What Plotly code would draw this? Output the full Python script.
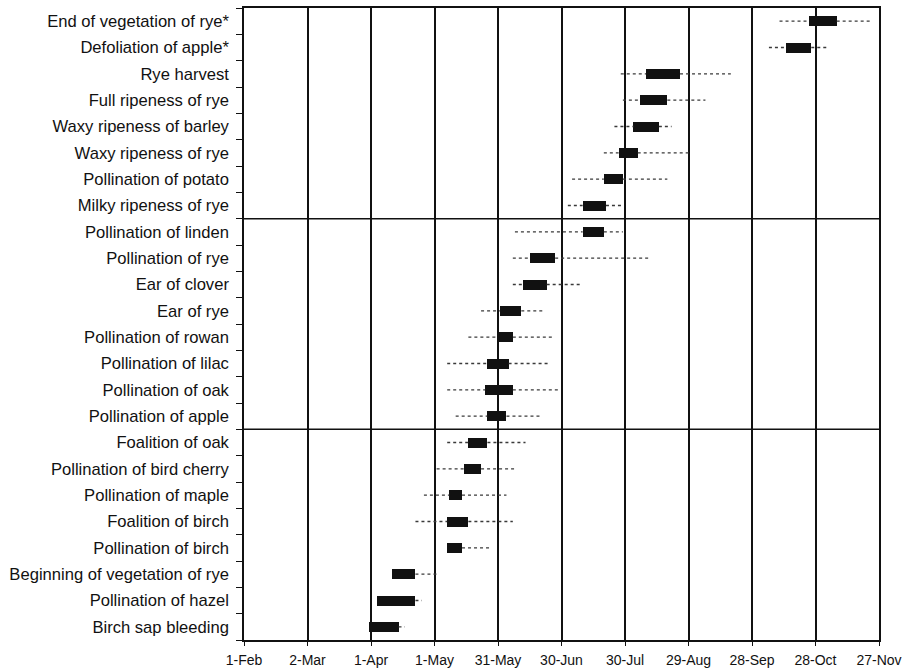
import pandas as pd
import plotly.graph_objects as go

# Phenological phases, listed top to bottom
phases = [
    "End of vegetation of rye*",
    "Defoliation of apple*",
    "Rye harvest",
    "Full ripeness of rye",
    "Waxy ripeness of barley",
    "Waxy ripeness of rye",
    "Pollination of potato",
    "Milky ripeness of rye",
    "Pollination of linden",
    "Pollination of rye",
    "Ear of clover",
    "Ear of rye",
    "Pollination of rowan",
    "Pollination of lilac",
    "Pollination of oak",
    "Pollination of apple",
    "Foalition of oak",
    "Pollination of bird cherry",
    "Pollination of maple",
    "Foalition of birch",
    "Pollination of birch",
    "Beginning of vegetation of rye",
    "Pollination of hazel",
    "Birch sap bleeding",
]

# Earliest date, usual period (start, end) and latest date of each phase
earliest = [
    "10-11", "10-06", "07-28", "07-29", "07-25", "07-20", "07-05", "07-03",
    "06-08", "06-07", "06-07", "05-23", "05-17", "05-07", "05-07", "05-11",
    "05-07", "05-02", "04-26", "04-22", "05-07", "04-11", "04-04", "03-31",
]
period_start = [
    "10-25", "10-14", "08-09", "08-06", "08-03", "07-27", "07-20", "07-10",
    "07-10", "06-15", "06-12", "06-01", "05-31", "05-26", "05-25", "05-26",
    "05-17", "05-15", "05-08", "05-07", "05-07", "04-11", "04-04", "03-31",
]
period_end = [
    "11-07", "10-26", "08-25", "08-19", "08-15", "08-05", "07-29", "07-21",
    "07-20", "06-27", "06-23", "06-11", "06-07", "06-05", "06-07", "06-04",
    "05-26", "05-23", "05-14", "05-17", "05-14", "04-22", "04-22", "04-14",
]
latest = [
    "11-24", "11-03", "09-18", "09-06", "08-21", "08-30", "08-19", "07-29",
    "07-29", "08-10", "07-10", "06-21", "06-26", "06-24", "06-29", "06-21",
    "06-13", "06-08", "06-04", "06-07", "05-27", "05-03", "04-25", "04-17",
]

# Axis ticks every 30 days
tick_dates = ["02-01", "03-02", "04-01", "05-01", "05-31", "06-30",
              "07-30", "08-29", "09-28", "10-28", "11-27"]

YEAR = "2000"


def to_dt(md):
    return pd.to_datetime([f"{YEAR}-{d}" for d in md])


lo = to_dt(earliest)
q1 = to_dt(period_start)
q3 = to_dt(period_end)
hi = to_dt(latest)
ticks = to_dt(tick_dates)

n = len(phases)
ypos = [n - 1 - i for i in range(n)]

fig = go.Figure()

# Dotted range lines: earliest -> period start and period end -> latest
wx, wy = [], []
for i in range(n):
    if lo[i] < q1[i]:
        wx += [lo[i], q1[i], None]
        wy += [ypos[i], ypos[i], None]
    if hi[i] > q3[i]:
        wx += [q3[i], hi[i], None]
        wy += [ypos[i], ypos[i], None]
fig.add_trace(go.Scatter(
    x=wx, y=wy, mode="lines",
    line=dict(color="#3a3a3a", width=1.3, dash="dot"),
    hoverinfo="skip", showlegend=False,
))

# Solid blocks for the usual period
durations = [(q3[i] - q1[i]).total_seconds() * 1000 for i in range(n)]
fig.add_trace(go.Bar(
    orientation="h",
    y=ypos,
    base=[d.strftime("%Y-%m-%d") for d in q1],
    x=durations,
    width=0.38,
    marker=dict(color="#111111", line=dict(width=0)),
    showlegend=False,
    hovertext=phases,
))

# Group separators
for yb in (7.5, 15.5):
    fig.add_shape(type="line", xref="paper", x0=0, x1=1, y0=yb, y1=yb,
                  line=dict(color="#111111", width=1.5))

fig.update_layout(
    width=910, height=671,
    margin=dict(l=244, r=31, t=8, b=31),
    paper_bgcolor="white", plot_bgcolor="white",
    font=dict(family="Liberation Sans, Arial, sans-serif", color="#111111"),
    bargap=0,
)

fig.update_xaxes(
    type="date",
    range=[ticks[0], ticks[-1]],
    tickmode="array",
    tickvals=list(ticks),
    ticktext=[f"{d.day}-{d.strftime('%b')}" for d in ticks],
    tickfont=dict(size=14),
    ticks="outside", ticklen=4, tickcolor="#111111",
    ticklabelstandoff=2,
    showgrid=True, gridcolor="#111111", gridwidth=1.5,
    showline=True, linecolor="#111111", linewidth=1.5, mirror=True,
    zeroline=False, automargin=False,
)

fig.update_yaxes(
    range=[-0.5, n - 0.5],
    tickmode="array",
    tickvals=ypos,
    ticktext=phases,
    tickfont=dict(size=16.6),
    ticks="", ticklabelstandoff=10,
    showgrid=False, zeroline=False, automargin=False,
    showline=True, linecolor="#111111", linewidth=1.5, mirror=True,
    minor=dict(tickmode="array", tickvals=[k + 0.5 for k in range(-1, n)],
               ticks="outside", ticklen=6, tickcolor="#111111", tickwidth=1.2,
               showgrid=False),
)

fig.write_html("out.html")
